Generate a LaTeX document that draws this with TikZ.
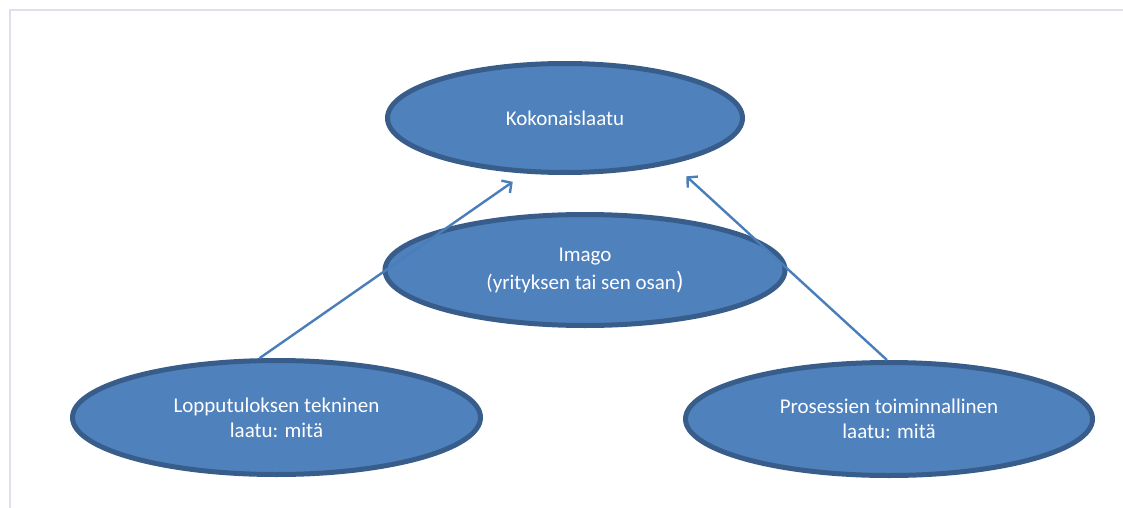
\documentclass[tikz,border=0pt]{standalone}
\usepackage{fontspec}
\setmainfont{Carlito}
\usetikzlibrary{shapes.geometric,arrows.meta}
\definecolor{ovalfill}{HTML}{4F81BD}
\definecolor{ovalline}{HTML}{385D8A}
\definecolor{arrowblue}{HTML}{4A7EBB}
\definecolor{framegray}{HTML}{DCE1EC}
\tikzset{
  oval/.style={ellipse, draw=ovalline, fill=ovalfill, line width=5pt,
    inner sep=0pt, text=white, align=center,
    font=\fontsize{21}{25}\selectfont},
  rise/.style={draw=arrowblue, line width=2.4pt,
    -{Straight Barb[length=7pt,width=15pt,line width=2.4pt]}},
  frameline/.style={draw=framegray, line width=2pt}
}
\begin{document}
\begin{tikzpicture}[x=1pt,y=-1pt]
\useasboundingbox (0,0) rectangle (1123,508);
% page frame
\coordinate (fl) at (10,508);
\coordinate (fc) at (10,10);
\coordinate (fr) at (1123,10);
\draw[frameline] (fl) -- (fc) -- (fr);
% ovals
\node[oval, minimum width=355pt, minimum height=109pt] (koko) at (565,118) {Kokonaislaatu};
\node[oval, minimum width=400pt, minimum height=111pt] (imago) at (585,270)
  {Imago\\[3pt](yrityksen tai sen osan{\fontsize{25}{25}\selectfont)}};
\node[oval, minimum width=408pt, minimum height=114pt] (lop) at (276.5,417.5)
  {Lopputuloksen tekninen\\laatu: mitä};
\node[oval, minimum width=407pt, minimum height=113pt] (pro) at (889,419)
  {Prosessien toiminnallinen\\laatu: mitä};
% arrows
\draw[rise, shorten >=14.5pt] (lop.106) -- (koko.234);
\draw[rise, shorten >=18.7pt] (pro.92) -- (koko.337.5);
\end{tikzpicture}
\end{document}
